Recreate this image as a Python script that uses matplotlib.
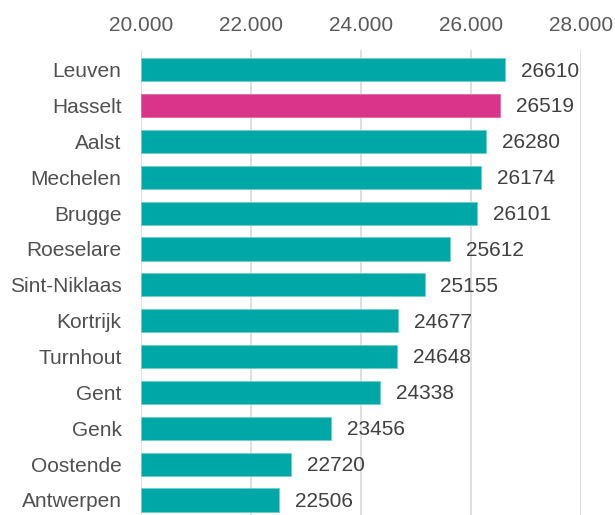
import matplotlib.pyplot as plt
from matplotlib.ticker import FuncFormatter

steden = ["Leuven", "Hasselt", "Aalst", "Mechelen", "Brugge", "Roeselare",
          "Sint-Niklaas", "Kortrijk", "Turnhout", "Gent", "Genk", "Oostende",
          "Antwerpen"]
waarden = [26610, 26519, 26280, 26174, 26101, 25612, 25155, 24677, 24648,
           24338, 23456, 22720, 22506]
ticks = [20000, 22000, 24000, 26000, 28000]

plt.rcParams['font.family'] = ['Liberation Sans', 'DejaVu Sans']

teal = "#00A7A7"
roze = "#D9338A"
kleuren = [roze if s == "Hasselt" else teal for s in steden]
randen = ["#E266A6" if s == "Hasselt" else "#6CCFCF" for s in steden]

fig = plt.figure(figsize=(6.15, 5.15), dpi=100)
ax = fig.add_axes([141 / 615, 0, 440 / 615, 465 / 515])

ypos = list(range(len(steden)))
ax.barh(ypos, [w - 20000 for w in waarden], left=20000, height=0.645,
        color=kleuren, edgecolor=randen, linewidth=0.6, zorder=3)
for y, w in zip(ypos, waarden):
    ax.annotate(str(w), (w, y), xytext=(11.5, -1), textcoords="offset points",
                va="center", ha="left", fontsize=15, color="#404040")

ax.set_xlim(20000, 28000)
ax.set_ylim(12.42, -0.55)
ax.set_xticks(ticks)
ax.xaxis.set_major_formatter(FuncFormatter(lambda v, p: f"{int(v):,}".replace(",", ".")))
ax.xaxis.tick_top()
ax.tick_params(axis="x", length=0, pad=11, labelsize=15, labelcolor="#595959")
ax.set_yticks(ypos)
ax.set_yticklabels(steden)
ax.tick_params(axis="y", length=0, pad=14, labelsize=15, labelcolor="#505050")
ax.grid(axis="x", color="#D9D9D9", linewidth=1.2, zorder=0)
for s in ax.spines.values():
    s.set_visible(False)

fig.savefig("out.png", dpi=100)
